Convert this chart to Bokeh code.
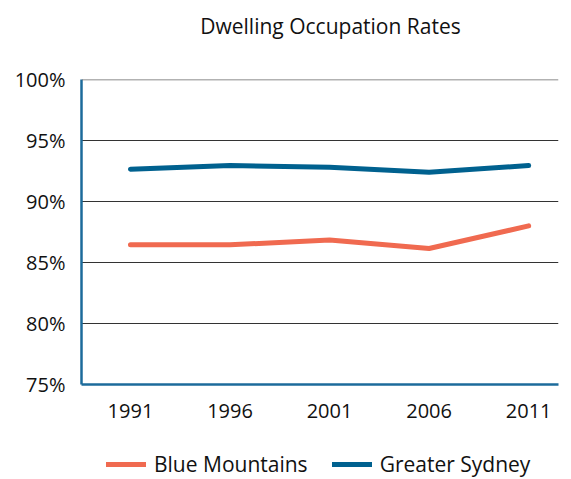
from bokeh.plotting import figure
from bokeh.layouts import column
from bokeh.models import Range1d, FixedTicker, PrintfTickFormatter, Legend, LegendItem, Label, Span
from bokeh.embed import file_html
from bokeh.resources import INLINE

years = [1991, 1996, 2001, 2006, 2011]
blue_mountains = [86.45, 86.45, 86.85, 86.15, 88.0]
greater_sydney = [92.65, 92.95, 92.8, 92.4, 92.95]
y_ticks = [75, 80, 85, 90, 95, 100]
title_text = "Dwelling Occupation Rates"
series_names = ["Blue Mountains", "Greater Sydney"]
series_colors = ["#F06A50", "#00618F"]
series_values = [blue_mountains, greater_sydney]

FONT = "Open Sans"
W = 571
FRAME_LEFT = 81  # frames of the stacked figures are aligned to this


def bare(h):
    f = figure(width=W, height=h, output_backend="svg", toolbar_location=None,
               x_range=Range1d(0, 1), y_range=Range1d(0, 1),
               min_border=0, min_border_left=0, min_border_right=0,
               min_border_top=0, min_border_bottom=0)
    f.axis.visible = False
    f.grid.visible = False
    f.outline_line_color = None
    return f


# title strip
p_title = bare(50)
p_title.add_layout(Label(x=330 - FRAME_LEFT, y=25, x_units="screen", y_units="screen", text=title_text,
                         text_align="center", text_baseline="middle", text_font=FONT,
                         text_font_size="21px", text_color="#111111"))

# main chart
p = figure(width=W, height=380, output_backend="svg", toolbar_location=None,
           x_range=Range1d(1988.54, 2012.5), y_range=Range1d(75, 100),
           min_border_left=FRAME_LEFT, min_border_right=13, min_border_top=29, min_border_bottom=46)
p.outline_line_color = None

p.add_layout(Span(location=y_ticks[-1], dimension="width", line_color="#666666", line_width=1.5))

for vals, col in zip(series_values, series_colors):
    p.line(years, vals, line_color=col, line_width=5, line_cap="round", line_join="round")

p.xaxis.ticker = FixedTicker(ticks=years)
p.yaxis.ticker = FixedTicker(ticks=y_ticks)
p.yaxis.formatter = PrintfTickFormatter(format="%d%%")
for ax in (p.xaxis, p.yaxis):
    ax.axis_line_color = "#1C6B9B"
    ax.axis_line_width = 2.5
    ax.major_tick_in = 0
    ax.major_tick_out = 0
    ax.minor_tick_in = 0
    ax.minor_tick_out = 0
    ax.major_label_text_font = FONT
    ax.major_label_text_font_size = "20px"
    ax.major_label_text_color = "#111111"
p.yaxis.major_label_standoff = 16
p.xaxis.major_label_standoff = 19

p.xgrid.grid_line_color = None
p.ygrid.grid_line_color = "#333333"
p.ygrid.grid_line_width = 1.2

# legend strip (its lines lie outside its own visible range; only the legend shows)
p_leg = bare(49)
items = []
for name, vals, col in zip(series_names, series_values, series_colors):
    r = p_leg.line(years, vals, line_color=col, line_width=5, line_cap="round")
    items.append(LegendItem(label=name, renderers=[r]))
legend = Legend(items=items, orientation="horizontal", location=(106 - FRAME_LEFT, 1),
                glyph_width=40, glyph_height=20, label_standoff=8, spacing=24,
                label_text_font=FONT, label_text_font_size="21px", label_text_color="#111111",
                border_line_color=None, background_fill_alpha=0, padding=0, margin=0)
p_leg.add_layout(legend)

layout = column(p_title, p, p_leg, spacing=0)
open("out.html", "w").write(file_html(layout, INLINE))
